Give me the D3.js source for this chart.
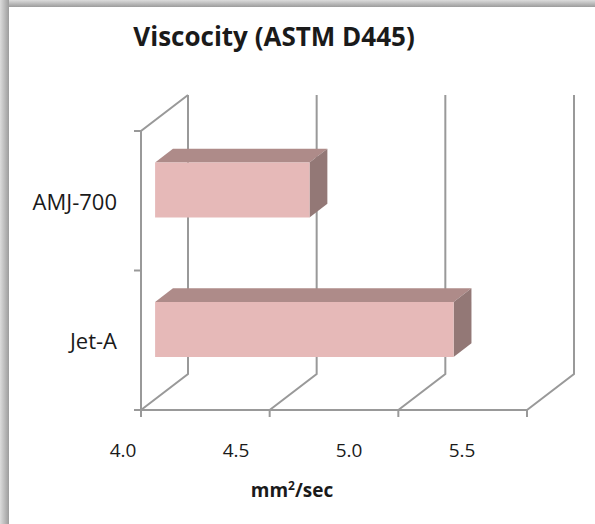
<!DOCTYPE html>
<html>
<head>
<meta charset="utf-8">
<script src="https://cdn.jsdelivr.net/npm/d3@7"></script>
<style>
  body { margin: 0; background: #fff; }
  text { font-family: "Open Sans", sans-serif; fill: #1a1a1a; }
</style>
</head>
<body>
<svg id="chart"></svg>
<script>
// data
var categories = ['AMJ-700', 'Jet-A'];
var values = [4.6, 5.16];
var xTicks = [4.0, 4.5, 5.0, 5.5];
var xTickLabels = ['4.0', '4.5', '5.0', '5.5'];

var width = 595, height = 524;
var DX = 47, DY = -36;          // front-to-back offset of the 3d box
var barFront = 0.3, barBack = 0.68;

var svg = d3.select('#chart').attr('width', width).attr('height', height);

// frame shadow on left/top
var defs = svg.append('defs');
var gl = defs.append('linearGradient').attr('id', 'shL').attr('x1', 0).attr('x2', 1).attr('y1', 0).attr('y2', 0);
gl.append('stop').attr('offset', 0).attr('stop-color', '#dcdcdc');
gl.append('stop').attr('offset', 1).attr('stop-color', '#9c9c9c');
var gt = defs.append('linearGradient').attr('id', 'shT').attr('x1', 0).attr('x2', 0).attr('y1', 0).attr('y2', 1);
gt.append('stop').attr('offset', 0).attr('stop-color', '#dcdcdc');
gt.append('stop').attr('offset', 1).attr('stop-color', '#9c9c9c');
svg.append('rect').attr('x', 0).attr('y', 0).attr('width', width).attr('height', 7).attr('fill', 'url(#shT)');
svg.append('rect').attr('x', 0).attr('y', 0).attr('width', 9).attr('height', height).attr('fill', 'url(#shL)');

var x = d3.scaleLinear().domain([4.0, 5.5]).range([141, 527]);
var xLab = d3.scaleLinear().domain([4.0, 5.5]).range([123, 462]);
var y = d3.scaleBand().domain(categories).range([131, 410]).padding(0);

var y0 = y.range()[0], y1 = y.range()[1];
var gridColor = '#999999';

function P(px, py, d) { return [px + DX * d, py + DY * d]; }
var line = d3.line();

var grid = svg.append('g').attr('fill', 'none').attr('stroke', gridColor).attr('stroke-width', 2);

// vertical gridlines on the back wall + floor diagonals
xTicks.forEach(function(t) {
  grid.append('path').attr('d', line([P(x(t), y0, 1), P(x(t), y1, 1), P(x(t), y1, 0)]));
});
// left wall edges
grid.append('path').attr('d', line([P(x(4), y1 + 5, 0), P(x(4), y0, 0), P(x(4), y0, 1)]));
// front floor edge
grid.append('path').attr('d', line([P(x(4), y1, 0), P(x(5.5), y1, 0)]));
// ticks
xTicks.forEach(function(t) {
  grid.append('path').attr('d', line([[x(t), y1], [x(t), y1 + 7]]));
});
var yEdges = [y0].concat(categories.map(function(c) { return y(c) + y.bandwidth(); }));
yEdges.forEach(function(v) {
  grid.append('path').attr('d', line([[x(4) - 7, v], [x(4), v]]));
});

// bars
var barH = y.bandwidth() * 0.394;
var bars = svg.append('g');
categories.forEach(function(c, i) {
  var cy = y(c) + y.bandwidth() / 2;
  var xa = x(4), xb = x(values[i]);
  var ta = cy - barH / 2, tb = cy + barH / 2;
  var f = function(px, py) { return P(px, py, barFront); };
  var b = function(px, py) { return P(px, py, barBack); };
  // top
  bars.append('path').attr('fill', '#ae8b89')
    .attr('d', line([f(xa, ta), b(xa, ta), b(xb, ta), f(xb, ta)]) + 'Z');
  // right side
  bars.append('path').attr('fill', '#937876')
    .attr('d', line([f(xb, ta), b(xb, ta), b(xb, tb), f(xb, tb)]) + 'Z');
  // front
  bars.append('path').attr('fill', '#e6b9b8')
    .attr('d', line([f(xa, ta), f(xb, ta), f(xb, tb), f(xa, tb)]) + 'Z');
});

// x tick labels
svg.append('g').selectAll('text').data(xTicks).enter().append('text')
  .attr('x', function(d) { return xLab(d); })
  .attr('y', 457)
  .attr('text-anchor', 'middle')
  .attr('font-size', 19)
  .text(function(d, i) { return xTickLabels[i]; });

// category labels
svg.append('g').selectAll('text').data(categories).enter().append('text')
  .attr('x', 117)
  .attr('y', function(d) { return y(d) + y.bandwidth() / 2 + 9; })
  .attr('text-anchor', 'end')
  .attr('font-size', 22)
  .text(function(d) { return d; });

// title
svg.append('text')
  .attr('x', 274).attr('y', 46)
  .attr('text-anchor', 'middle')
  .attr('font-size', 26).attr('font-weight', 'bold')
  .text('Viscocity (ASTM D445)');

// axis title
var at = svg.append('text')
  .attr('x', 292).attr('y', 497)
  .attr('text-anchor', 'middle')
  .attr('font-size', 19).attr('font-weight', 'bold');
at.append('tspan').text('mm');
at.append('tspan').attr('font-size', 12).attr('dy', -7).text('2');
at.append('tspan').attr('dy', 7).text('/sec');
</script>
</body>
</html>
